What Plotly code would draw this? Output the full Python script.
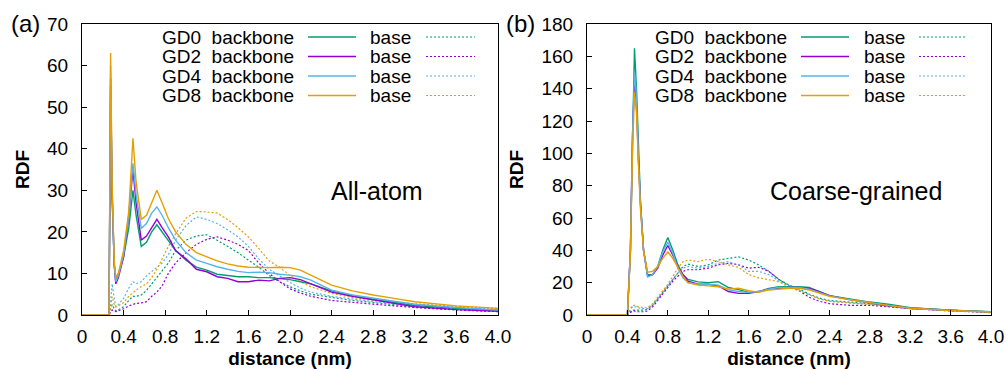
import plotly.graph_objects as go

# ---------------- data ----------------
groups = ["GD0", "GD2", "GD4", "GD8"]
colors = ["#009e73", "#9400d3", "#56b4e9", "#e69f00"]

x_ticks = [0, 0.4, 0.8, 1.2, 1.6, 2.0, 2.4, 2.8, 3.2, 3.6, 4.0]
x_ticktext = ["0", "0.4", "0.8", "1.2", "1.6", "2.0", "2.4", "2.8", "3.2", "3.6", "4.0"]
ya_ticks = [0, 10, 20, 30, 40, 50, 60, 70]
yb_ticks = [0, 20, 40, 60, 80, 100, 120, 140, 160, 180]

# (a) all-atom
xa = [0, 0.26, 0.275, 0.29, 0.31, 0.325, 0.35, 0.40, 0.45, 0.49, 0.52, 0.57, 0.62, 0.67, 0.72,
      0.77, 0.83, 0.90, 1.0, 1.1, 1.2, 1.3, 1.4, 1.5, 1.6, 1.7, 1.8, 1.9, 2.0, 2.1, 2.2, 2.4,
      2.6, 2.8, 3.0, 3.2, 3.6, 4.0]
aa_backbone_gd0 = [0, 0, 55, 28, 12, 8.5, 10, 14, 21, 30, 24, 16.5, 17.5, 20, 21.7, 20, 17.7, 15.5,
                   13.2, 11.5, 10.8, 9.8, 9.5, 9.2, 9.2, 9.0, 9.0, 8.8, 8.5, 8.0, 7.5, 5.8, 4.7, 3.8,
                   3.0, 2.3, 1.6, 1.1]
aa_backbone_gd2 = [0, 0, 57, 29, 12, 7.5, 9, 14, 24, 35, 27, 18, 19, 21, 23, 21, 18.8, 15.5, 13.5,
                   11.0, 10.4, 9.2, 8.8, 8.0, 8.0, 8.4, 8.2, 8.8, 9.0, 8.5, 7.5, 5.5, 4.5, 3.6, 2.8,
                   2.0, 1.3, 0.9]
aa_backbone_gd4 = [0, 0, 60, 30, 12, 8, 9.5, 14.5, 24, 36.5, 29, 20.8, 22, 24.5, 26, 24, 21, 18, 15,
                   13.2, 12.4, 11.6, 11.0, 10.5, 10.2, 10.3, 10.2, 9.8, 9.6, 9.2, 8.4, 6.0, 4.8, 4.0,
                   3.3, 2.6, 1.8, 1.2]
aa_backbone_gd8 = [0, 0, 63, 31, 13, 9, 10, 15.5, 25, 42.5, 32, 23, 24, 27, 30, 27, 23.2, 20, 17,
                   15, 14, 13, 12.3, 11.8, 11.5, 11.4, 11.4, 11.5, 11.4, 10.8, 9.6, 7.2, 5.8, 4.8,
                   4.0, 3.2, 2.2, 1.6]
aa_base_gd0 = [0, 0, 1.5, 2.5, 1.5, 1.0, 1.2, 2, 3.5, 4.5, 4.5, 4.8, 5.9, 7.5, 9, 10.5, 12.5, 15.5,
               18, 19, 19.3, 18, 16.5, 15, 13.2, 11.5, 9.5, 8, 6.8, 5.8, 5.0, 4.2, 3.5, 3.0, 2.5,
               2.0, 1.5, 1.1]
aa_base_gd2 = [0, 0, 0.8, 1.2, 1, 0.8, 1, 1.5, 2.2, 2.6, 2.8, 2.9, 3.2, 4.5, 5.5, 7, 10, 12.5, 15,
               17, 18.2, 18.8, 18, 17, 15.5, 12.5, 10, 8, 6.3, 5.3, 4.5, 3.5, 3.0, 2.6, 2.2, 1.8,
               1.2, 0.8]
aa_base_gd4 = [0, 0, 3, 7.5, 4, 2, 2.5, 4, 6.5, 8, 7.5, 8, 9.4, 10.5, 11.5, 12.5, 14.5, 18, 21.5,
               23.6, 23, 22, 20.5, 18.8, 16.5, 13.5, 11, 9.3, 7.8, 6.5, 5.5, 4.5, 3.8, 3.2, 2.8,
               2.4, 1.8, 1.4]
aa_base_gd8 = [0, 0, 2, 4.4, 2.5, 1.9, 2.2, 3, 4.5, 5.5, 6, 6.8, 7.5, 9, 11, 13.5, 16.5, 19.5, 23.3,
               24.9, 24.8, 24.5, 23, 21, 18.8, 16, 13, 11.5, 9.5, 8, 6.8, 5.2, 4.2, 3.6, 3.1, 2.7,
               2.1, 1.6]

# (b) coarse-grained
xb = [0, 0.40, 0.43, 0.45, 0.47, 0.49, 0.51, 0.53, 0.56, 0.60, 0.65, 0.70, 0.75, 0.80, 0.85, 0.90,
      0.95, 1.0, 1.1, 1.2, 1.3, 1.4, 1.5, 1.6, 1.7, 1.8, 1.9, 2.0, 2.1, 2.2, 2.3, 2.4, 2.6, 2.8,
      3.0, 3.2, 3.6, 4.0]
cg_backbone_gd0 = [0, 0, 40, 110, 165, 140, 100, 70, 40, 25, 25, 30, 40, 48, 40, 31, 25, 22, 20.5,
                   20, 20.6, 17, 15.7, 14, 14.5, 16.5, 17.5, 17.5, 17.5, 17, 14.5, 12, 10, 8, 6.5,
                   4.5, 3, 2]
cg_backbone_gd2 = [0, 0, 40, 110, 145, 130, 95, 68, 40, 24, 25, 29, 37, 43, 37, 30, 25, 21, 19, 19,
                   18, 14.5, 13.4, 13.4, 14.5, 16, 16.5, 17, 17, 16.5, 14.5, 12, 9.5, 7.5, 5.5, 4,
                   2.7, 1.8]
cg_backbone_gd4 = [0, 0, 40, 110, 150, 135, 95, 68, 40, 23.5, 25, 30, 39, 45, 38, 29, 23, 20, 19,
                   19, 18.5, 15.5, 14.5, 14, 14.5, 16, 17, 17, 17, 16, 14, 11.8, 9.5, 7.5, 5.8, 4.2,
                   2.8, 1.9]
cg_backbone_gd8 = [0, 0, 38, 100, 138, 125, 92, 65, 40, 26.5, 27, 30, 35, 39, 35, 29, 24, 20, 18.5,
                   18, 17.5, 16, 16.5, 15, 14, 15.5, 16, 16.5, 16.5, 15.5, 13.5, 11.5, 9.5, 7.5,
                   5.8, 4.2, 2.8, 1.9]
cg_base_gd0 = [0, 0, 2, 3, 3, 3, 3, 3, 3, 3.5, 6, 10, 14, 18, 22, 26, 30, 31.5, 30, 31, 34, 35, 36,
               34, 31, 27, 22, 18.5, 16, 13, 10.5, 9, 8, 7, 5.5, 4.5, 3, 2]
cg_base_gd2 = [0, 0, 1.5, 2.5, 2.5, 2, 2, 2, 2, 2.5, 5, 9, 13, 17, 21, 24, 27, 28, 28, 29, 31, 32,
               31, 29, 29.5, 27, 22, 18, 15, 11, 8.5, 7, 6, 6, 5, 4, 2.5, 1.5]
cg_base_gd4 = [0, 0, 3, 5, 5, 5, 4.5, 4, 4, 4, 6, 10, 14, 18, 22, 26, 29, 30, 29, 30, 32, 33, 31,
               27, 27, 25, 21, 18, 15.5, 12.5, 10, 8.5, 7.5, 6.5, 5.5, 4.5, 3, 2]
cg_base_gd8 = [0, 0, 4, 6, 6, 5.5, 5, 5, 4.5, 4.5, 7, 11, 15, 19, 24, 29, 33, 34, 33, 34.5, 33, 31,
               29.5, 25, 23, 22, 20.6, 17, 15, 12.5, 10, 8.5, 7.5, 6.5, 5.5, 4.5, 3, 2]

aa_backbone = [aa_backbone_gd0, aa_backbone_gd2, aa_backbone_gd4, aa_backbone_gd8]
aa_base = [aa_base_gd0, aa_base_gd2, aa_base_gd4, aa_base_gd8]
cg_backbone = [cg_backbone_gd0, cg_backbone_gd2, cg_backbone_gd4, cg_backbone_gd8]
cg_base = [cg_base_gd0, cg_base_gd2, cg_base_gd4, cg_base_gd8]

# ---------------- figure ----------------
W, H = 1006, 369
FONT = "Liberation Sans, Arial, Helvetica, sans-serif"
DOT = "2px,2px"

fig = go.Figure()

for i, g in enumerate(groups):
    fig.add_trace(go.Scatter(x=xa, y=aa_base[i], mode="lines", xaxis="x", yaxis="y",
                             line=dict(color=colors[i], width=1.2, dash=DOT),
                             name=g + " base", showlegend=False))
    fig.add_trace(go.Scatter(x=xb, y=cg_base[i], mode="lines", xaxis="x2", yaxis="y2",
                             line=dict(color=colors[i], width=1.2, dash=DOT),
                             name=g + " base", showlegend=False))
for i, g in enumerate(groups):
    fig.add_trace(go.Scatter(x=xa, y=aa_backbone[i], mode="lines", xaxis="x", yaxis="y",
                             line=dict(color=colors[i], width=1.4),
                             name=g + " backbone", showlegend=False))
    fig.add_trace(go.Scatter(x=xb, y=cg_backbone[i], mode="lines", xaxis="x2", yaxis="y2",
                             line=dict(color=colors[i], width=1.4),
                             name=g + " backbone", showlegend=False))

def px_x(p):
    return p / W

def px_y(p):
    return 1 - p / H

top_px, bot_px = 24, 315
panels = [dict(l=82, r=498), dict(l=587, r=991)]

common_axis = dict(showline=True, linecolor="black", linewidth=1, mirror=True,
                   ticks="inside", ticklen=5, tickwidth=1, tickcolor="black",
                   showgrid=False, zeroline=False, automargin=False,
                   ticklabeloverflow="allow",
                   tickfont=dict(family=FONT, size=19, color="black"))

xaxis_common = dict(common_axis, range=[0, 4], tickvals=x_ticks, ticktext=x_ticktext,
                    ticklabelstandoff=4,
                    title=dict(text="<b>distance (nm)</b>", standoff=11,
                               font=dict(family=FONT, size=19, color="black")))

fig.update_layout(
    width=W, height=H,
    margin=dict(l=0, r=0, t=0, b=0, autoexpand=False),
    paper_bgcolor="white", plot_bgcolor="white",
    showlegend=False,
    hovermode=False,
    xaxis=dict(xaxis_common, domain=[px_x(panels[0]["l"]), px_x(panels[0]["r"])], anchor="y"),
    xaxis2=dict(xaxis_common, domain=[px_x(panels[1]["l"]), px_x(panels[1]["r"])], anchor="y2"),
    yaxis=dict(common_axis, range=[0, 70], tickvals=ya_ticks,
               domain=[px_y(bot_px), px_y(top_px)], anchor="x", ticklabelstandoff=9,
               title=dict(text="<b>RDF</b>", standoff=12,
                          font=dict(family=FONT, size=19, color="black"))),
    yaxis2=dict(common_axis, range=[0, 180], tickvals=yb_ticks,
                domain=[px_y(bot_px), px_y(top_px)], anchor="x2", ticklabelstandoff=9,
                title=dict(text="<b>RDF</b>", standoff=12,
                           font=dict(family=FONT, size=19, color="black"))),
    font=dict(family=FONT, color="black"),
)

annos = []
# panel labels
annos.append(dict(text="(a)", x=px_x(25), y=px_y(23), xref="paper", yref="paper",
                  showarrow=False, font=dict(family=FONT, size=24, color="black"),
                  xanchor="center", yanchor="middle"))
annos.append(dict(text="(b)", x=px_x(520), y=px_y(23), xref="paper", yref="paper",
                  showarrow=False, font=dict(family=FONT, size=24, color="black"),
                  xanchor="center", yanchor="middle"))
annos.append(dict(text="All-atom", x=px_x(377), y=px_y(191), xref="paper", yref="paper",
                  showarrow=False, font=dict(family=FONT, size=25, color="black"),
                  xanchor="center", yanchor="middle"))
annos.append(dict(text="Coarse-grained", x=px_x(856), y=px_y(191), xref="paper", yref="paper",
                  showarrow=False, font=dict(family=FONT, size=25, color="black"),
                  xanchor="center", yanchor="middle"))

# legend (gnuplot-style key: text then sample)
rows_px = [37, 56.5, 76, 95.5]
key_layout = [
    dict(lab_end=296, solid=(308, 356), base_end=413, dot=(426, 475)),
    dict(lab_end=789, solid=(801, 849), base_end=907, dot=(919, 965)),
]
shapes = []
for k in key_layout:
    for i, g in enumerate(groups):
        yy = px_y(rows_px[i])
        annos.append(dict(text=g + "  backbone", x=px_x(k["lab_end"]), y=yy, xref="paper",
                          yref="paper", showarrow=False, xanchor="right", yanchor="middle",
                          font=dict(family=FONT, size=19, color="black")))
        annos.append(dict(text="base", x=px_x(k["base_end"]), y=yy, xref="paper",
                          yref="paper", showarrow=False, xanchor="right", yanchor="middle",
                          font=dict(family=FONT, size=19, color="black")))
        shapes.append(dict(type="line", xref="paper", yref="paper",
                           x0=px_x(k["solid"][0]), x1=px_x(k["solid"][1]), y0=yy, y1=yy,
                           line=dict(color=colors[i], width=1.6)))
        shapes.append(dict(type="line", xref="paper", yref="paper",
                           x0=px_x(k["dot"][0]), x1=px_x(k["dot"][1]), y0=yy, y1=yy,
                           line=dict(color=colors[i], width=1.2, dash=DOT)))

fig.update_layout(annotations=annos, shapes=shapes)

# remove the default 8px page margin so the figure fills the window exactly
fig.write_html("out.html", config={"displayModeBar": False},
               post_script="document.body.style.margin='0px';")
